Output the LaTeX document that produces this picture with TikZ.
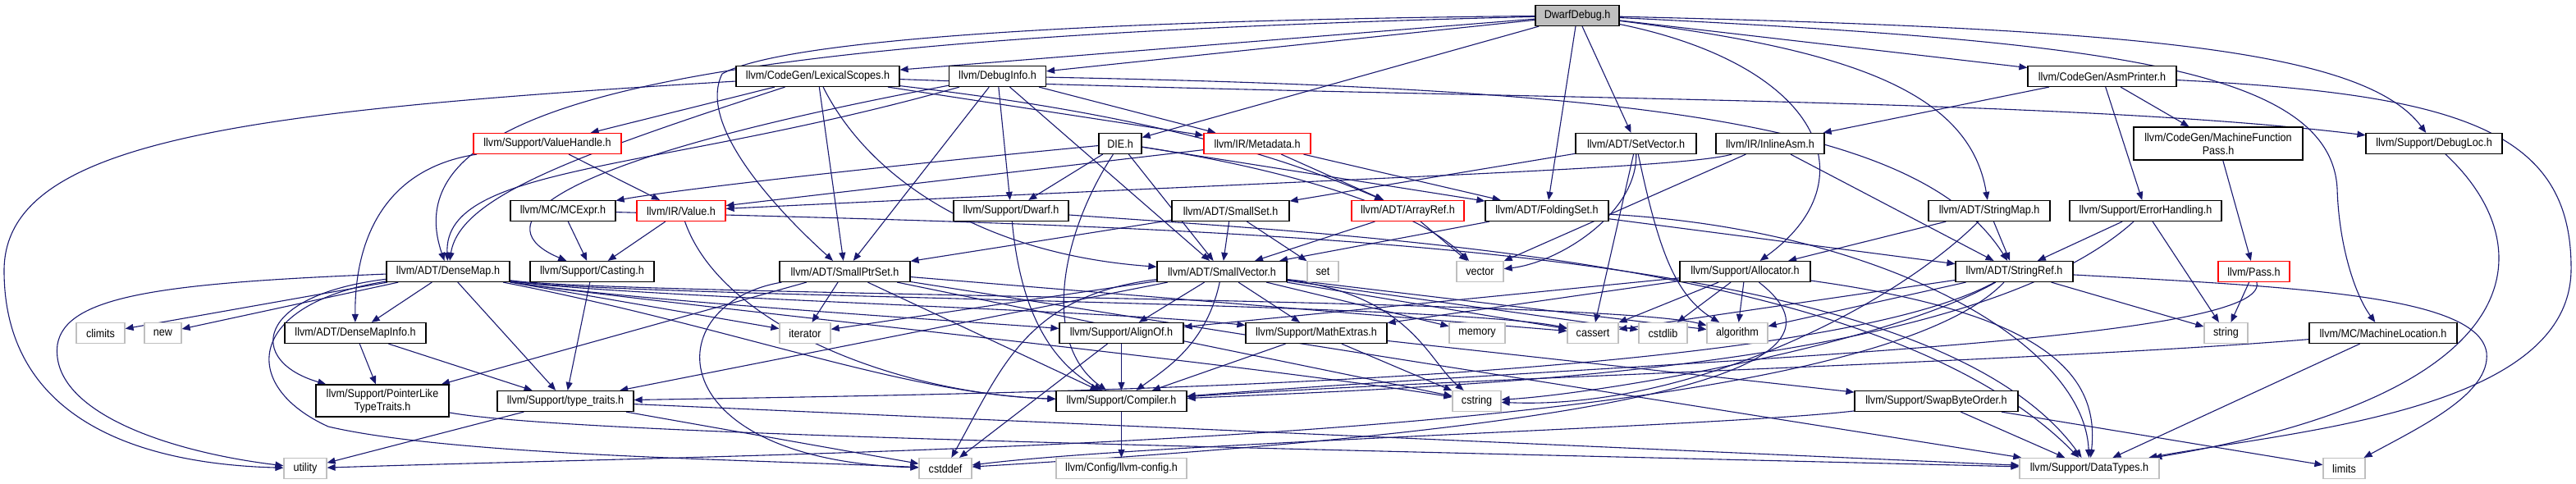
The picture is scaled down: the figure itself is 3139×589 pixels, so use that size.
\documentclass[tikz,border=0pt]{standalone}
\usepackage{fontspec}
\setmainfont{Liberation Sans}[FakeStretch=0.9]
\usetikzlibrary{arrows.meta}
\pgfdeclarelayer{back}
\pgfdeclarelayer{bg}
\pgfsetlayers{back,bg,main}
\definecolor{navyc}{HTML}{191970}
\definecolor{greyb}{HTML}{BFBFBF}
\newcommand{\nodefont}{\fontsize{14}{16}\selectfont}
\begin{document}
\begin{tikzpicture}[x=1pt,y=-1pt,
  nb/.style={draw=black, fill=white, line width=1.2pt, minimum height=25pt, inner xsep=2pt, inner ysep=0pt, font=\nodefont, text=black, align=center},
  nr/.style={nb, draw=red},
  ng/.style={nb, draw=greyb},
  nroot/.style={nb, fill=greyb},
  e/.style={draw=navyc, line width=1.1pt, -{Triangle[length=10pt,width=8pt]}}]
\useasboundingbox (0,0) rectangle (3139,589);
\begin{pgfonlayer}{back}
\fill[white] (0,0) rectangle (3139,589);
\end{pgfonlayer}
% rank 0
\node[nroot, minimum width=102pt] (DD) at (1922,19) {DwarfDebug.h};
% rank 1
\node[nb, minimum width=199pt] (LS) at (996.5,93) {llvm/CodeGen/LexicalScopes.h};
\node[nb, minimum width=118pt] (DI) at (1215.5,93) {llvm/DebugInfo.h};
\node[nb, minimum width=181pt] (AP) at (2561.5,93) {llvm/CodeGen/AsmPrinter.h};
% rank 2
\node[nr, minimum width=180pt] (VH) at (667,175) {llvm/Support/ValueHandle.h};
\node[nb, minimum width=52pt] (DIE) at (1365,175) {DIE.h};
\node[nr, minimum width=130pt] (MD) at (1532,175) {llvm/IR/Metadata.h};
\node[nb, minimum width=147pt] (SV) at (1993.5,175) {llvm/ADT/SetVector.h};
\node[nb, minimum width=132pt] (IA) at (2157,175) {llvm/IR/InlineAsm.h};
\node[nb, minimum width=206pt, minimum height=40pt] (MFP) at (2703,175) {llvm/CodeGen/MachineFunction\\Pass.h};
\node[nb, minimum width=166pt] (DL) at (2966,175) {llvm/Support/DebugLoc.h};
% rank 3
\node[nb, minimum width=128pt] (MC) at (686,257) {llvm/MC/MCExpr.h};
\node[nr, minimum width=108pt] (VA) at (830,257) {llvm/IR/Value.h};
\node[nb, minimum width=140pt] (DW) at (1232,257) {llvm/Support/Dwarf.h};
\node[nb, minimum width=143pt] (SS) at (1499.5,257) {llvm/ADT/SmallSet.h};
\node[nr, minimum width=137pt] (AR) at (1715.5,257) {llvm/ADT/ArrayRef.h};
\node[nb, minimum width=150pt] (FS) at (1885,257) {llvm/ADT/FoldingSet.h};
\node[nb, minimum width=148pt] (SM) at (2424,257) {llvm/ADT/StringMap.h};
\node[nb, minimum width=185pt] (EH) at (2614.5,257) {llvm/Support/ErrorHandling.h};
% rank 4
\node[nb, minimum width=150pt] (DM) at (546,331) {llvm/ADT/DenseMap.h};
\node[nb, minimum width=151pt] (CA) at (721.5,331) {llvm/Support/Casting.h};
\node[nb, minimum width=159pt] (SPS) at (1029.5,331) {llvm/ADT/SmallPtrSet.h};
\node[nb, minimum width=158pt] (SVec) at (1489,331) {llvm/ADT/SmallVector.h};
\node[ng, minimum width=38pt] (set) at (1612,331) {set};
\node[ng, minimum width=57pt] (vector) at (1803.5,331) {vector};
\node[nb, minimum width=159pt] (AL) at (2126.5,331) {llvm/Support/Allocator.h};
\node[nb, minimum width=143pt] (SR) at (2454.5,331) {llvm/ADT/StringRef.h};
\node[nr, minimum width=87pt] (PA) at (2746.5,331) {llvm/Pass.h};
% rank 5
\node[ng, minimum width=59pt] (climits) at (122.5,406) {climits};
\node[ng, minimum width=45pt] (new) at (198.5,406) {new};
\node[nb, minimum width=172pt] (DMI) at (433,406) {llvm/ADT/DenseMapInfo.h};
\node[ng, minimum width=62pt] (iterator) at (981,406) {iterator};
\node[nb, minimum width=151pt] (AO) at (1366.5,406) {llvm/Support/AlignOf.h};
\node[nb, minimum width=172pt] (ME) at (1604,406) {llvm/Support/MathExtras.h};
\node[ng, minimum width=68pt] (memory) at (1800,406) {memory};
\node[ng, minimum width=62pt] (cassert) at (1941,406) {cassert};
\node[ng, minimum width=59pt] (cstdlib) at (2026.5,406) {cstdlib};
\node[ng, minimum width=74pt] (algorithm) at (2117,406) {algorithm};
\node[ng, minimum width=53pt] (string) at (2712.5,406) {string};
\node[nb, minimum width=180pt] (ML) at (2904,406) {llvm/MC/MachineLocation.h};
% rank 6
\node[nb, minimum width=162pt, minimum height=39pt] (PL) at (466,488.5) {llvm/Support/PointerLike\\TypeTraits.h};
\node[nb, minimum width=166pt] (TT) at (689,489) {llvm/Support/type\_traits.h};
\node[nb, minimum width=159pt] (CO) at (1366.5,489) {llvm/Support/Compiler.h};
\node[ng, minimum width=59pt] (cstring) at (1799.5,489) {cstring};
\node[nb, minimum width=199pt] (SBO) at (2359.5,489) {llvm/Support/SwapByteOrder.h};
% rank 7
\node[ng, minimum width=52pt] (utility) at (372,571) {utility};
\node[ng, minimum width=64pt] (cstddef) at (1152,571) {cstddef};
\node[ng, minimum width=159pt] (LC) at (1366.5,571) {llvm/Config/llvm-config.h};
\node[ng, minimum width=170pt] (DT) at (2546,571) {llvm/Support/DataTypes.h};
\node[ng, minimum width=51pt] (limits) at (2856.5,571) {limits};

\begin{pgfonlayer}{bg}
% DwarfDebug
\draw[e] (DD) -- (LS);
\draw[e] (DD) -- (DI);
\draw[e] (DD) -- (AP);
\draw[e] (DD) -- (DIE);
\draw[e] (DD) -- (SV);
\draw[e] (DD) -- (FS);
\draw[e] (DD) .. controls (2600,35) and (2880,60) .. (DL);
\draw[e] (DD) .. controls (900,45) and (470,110) .. (DM);
\draw[e] (DD) .. controls (1300,25) and (950,50) .. (880,90) .. controls (850,150) and (940,250) .. (SPS);
\draw[e] (DD) .. controls (2250,60) and (2400,110) .. (SM);
\draw[e] (DD) .. controls (2220,80) and (2280,220) .. (AL);
\draw[e] (DD) .. controls (2550,50) and (2840,80) .. (2848,230) .. controls (2850,300) and (2870,360) .. (ML);
% LexicalScopes
\draw[e] (LS) -- (VH);
\draw[e] (LS) .. controls (700,190) and (560,240) .. (DM);
\draw[e] (LS) -- (SPS);
\draw[e] (LS) .. controls (1060,220) and (1200,310) .. (SVec);
\draw[e] (LS) -- (MD);
\draw[e] (LS) .. controls (1400,140) and (1560,190) .. (AR);
\draw[e] (LS) .. controls (1800,122) and (2500,118) .. (DL);
\draw[e] (LS) .. controls (300,135) and (5,170) .. (5,330) .. controls (5,500) and (150,565) .. (utility);
% DebugInfo
\draw[e] (DI) .. controls (800,210) and (540,200) .. (DM);
\draw[e] (DI) .. controls (620,205) and (600,280) .. (CA);
\draw[e] (DI) -- (SPS);
\draw[e] (DI) -- (SVec);
\draw[e] (DI) -- (DW);
\draw[e] (DI) -- (MD);
\draw[e] (DI) .. controls (2000,108) and (2340,150) .. (SR);
% DIE
\draw[e] (DIE) .. controls (1000,210) and (800,235) .. (MC);
\draw[e] (DIE) -- (DW);
\draw[e] (DIE) .. controls (1290,290) and (1270,420) .. (CO);
\draw[e] (DIE) -- (SVec);
\draw[e] (DIE) .. controls (1560,205) and (1720,250) .. (vector);
\draw[e] (DIE) -- (FS);
% Metadata, ValueHandle
\draw[e] (MD) -- (AR);
\draw[e] (MD) -- (FS);
\draw[e] (MD) -- (VA);
\draw[e] (VH) -- (VA);
\draw[e] (VH) .. controls (470,205) and (432,290) .. (DMI);
% SetVector
\draw[e] (SV) -- (SS);
\draw[e] (SV) .. controls (1995,260) and (1900,320) .. (vector);
\draw[e] (SV) -- (cassert);
\draw[e] (SV) .. controls (2020,300) and (2040,360) .. (algorithm);
% InlineAsm
\draw[e] (IA) .. controls (2050,205) and (1700,215) .. (VA);
\draw[e] (IA) -- (vector);
\draw[e] (IA) -- (SR);
% AsmPrinter
\draw[e] (AP) -- (MFP);
\draw[e] (AP) -- (IA);
\draw[e] (AP) -- (EH);
\draw[e] (AP) .. controls (3000,115) and (3135,160) .. (3133,330) .. controls (3130,500) and (2800,525) .. (DT);
\draw[e] (MFP) -- (PA);
\draw[e] (DL) .. controls (3100,300) and (3090,480) .. (DT);
% rank 3
\draw[e] (MC) -- (CA);
\draw[e] (MC) .. controls (1600,280) and (2350,300) .. (DT);
\draw[e] (VA) -- (CA);
\draw[e] (VA) .. controls (880,400) and (1100,480) .. (CO);
\draw[e] (DW) .. controls (1240,340) and (1260,430) .. (CO);
\draw[e] (DW) .. controls (1700,290) and (2300,320) .. (DT);
\draw[e] (SS) -- (SPS);
\draw[e] (SS) -- (SVec);
\draw[e] (SS) -- (set);
\draw[e] (AR) -- (SVec);
\draw[e] (AR) -- (vector);
\draw[e] (FS) -- (SVec);
\draw[e] (FS) -- (SR);
\draw[e] (FS) .. controls (2300,280) and (2540,420) .. (DT);
\draw[e] (SM) -- (SR);
\draw[e] (SM) -- (AL);
\draw[e] (SM) .. controls (2300,380) and (2050,500) .. (cstring);
\draw[e] (EH) -- (SR);
\draw[e] (EH) -- (string);
\draw[e] (EH) .. controls (2400,450) and (1800,470) .. (CO);
% DenseMap
\draw[e] (DM) -- (climits);
\draw[e] (DM) -- (new);
\draw[e] (DM) -- (DMI);
\draw[e] (DM) -- (TT);
\draw[e] (DM) .. controls (310,360) and (300,440) .. (PL);
\draw[e] (DM) .. controls (200,345) and (80,360) .. (70,420) .. controls (60,500) and (200,550) .. (utility);
\draw[e] (DM) .. controls (300,370) and (290,470) .. (400,520) .. controls (550,555) and (900,560) .. (cstddef);
\draw[e] (DM) -- (iterator);
\draw[e] (DM) .. controls (750,365) and (1150,390) .. (AO);
\draw[e] (DM) .. controls (750,362) and (1350,378) .. (ME);
\draw[e] (DM) .. controls (900,400) and (1100,480) .. (CO);
\draw[e] (DM) .. controls (750,362) and (1750,368) .. (cassert);
\draw[e] (DM) .. controls (750,360) and (1950,364) .. (algorithm);
\draw[e] (DM) .. controls (750,365) and (1500,440) .. (cstring);
\draw[e] (CA) -- (TT);
% SmallPtrSet
\draw[e] (SPS) -- (iterator);
\draw[e] (SPS) -- (CO);
\draw[e] (SPS) -- (PL);
\draw[e] (SPS) .. controls (800,370) and (800,560) .. (cstddef);
\draw[e] (SPS) -- (cassert);
\draw[e] (SPS) -- (cstring);
\draw[e] (SPS) -- (DT);
% SmallVector
\draw[e] (SVec) -- (AO);
\draw[e] (SVec) .. controls (1470,420) and (1420,450) .. (CO);
\draw[e] (SVec) -- (ME);
\draw[e] (SVec) -- (TT);
\draw[e] (SVec) -- (iterator);
\draw[e] (SVec) -- (memory);
\draw[e] (SVec) -- (cassert);
\draw[e] (SVec) -- (cstdlib);
\draw[e] (SVec) -- (algorithm);
\draw[e] (SVec) .. controls (1720,360) and (1740,440) .. (cstring);
\draw[e] (SVec) .. controls (1250,360) and (1220,450) .. (cstddef);
% Allocator
\draw[e] (AL) -- (AO);
\draw[e] (AL) -- (ME);
\draw[e] (AL) -- (algorithm);
\draw[e] (AL) -- (cassert);
\draw[e] (AL) -- (cstdlib);
\draw[e] (AL) .. controls (2280,450) and (2000,520) .. (cstddef);
\draw[e] (AL) .. controls (2480,380) and (2560,450) .. (DT);
% StringRef
\draw[e] (SR) .. controls (2200,470) and (1200,480) .. (TT);
\draw[e] (SR) -- (algorithm);
\draw[e] (SR) -- (cassert);
\draw[e] (SR) .. controls (2300,420) and (1950,480) .. (cstring);
\draw[e] (SR) -- (string);
\draw[e] (SR) .. controls (2800,350) and (3020,360) .. (3030,430) .. controls (3035,480) and (2950,520) .. (limits);
\draw[e] (SR) .. controls (2250,545) and (1000,550) .. (utility);
% Pass, MachineLocation
\draw[e] (PA) -- (string);
\draw[e] (PA) .. controls (2770,420) and (2000,440) .. (CO);
\draw[e] (ML) .. controls (2500,440) and (1800,460) .. (CO);
\draw[e] (ML) -- (DT);
% rank 5/6
\draw[e] (DMI) -- (PL);
\draw[e] (DMI) -- (TT);
\draw[e] (AO) -- (CO);
\draw[e] (AO) -- (cstddef);
\draw[e] (ME) -- (CO);
\draw[e] (ME) -- (SBO);
\draw[e] (ME) -- (cstring);
\draw[e] (PL) .. controls (700,530) and (1500,545) .. (DT);
\draw[e] (TT) -- (utility);
\draw[e] (TT) -- (cstddef);
\draw[e] (TT) -- (DT);
\draw[e] (CO) -- (LC);
\draw[e] (SBO) -- (DT);
\draw[e] (SBO) -- (limits);
\draw[e] (SBO) .. controls (2100,520) and (1400,540) .. (cstddef);
\end{pgfonlayer}
\end{tikzpicture}
\end{document}
